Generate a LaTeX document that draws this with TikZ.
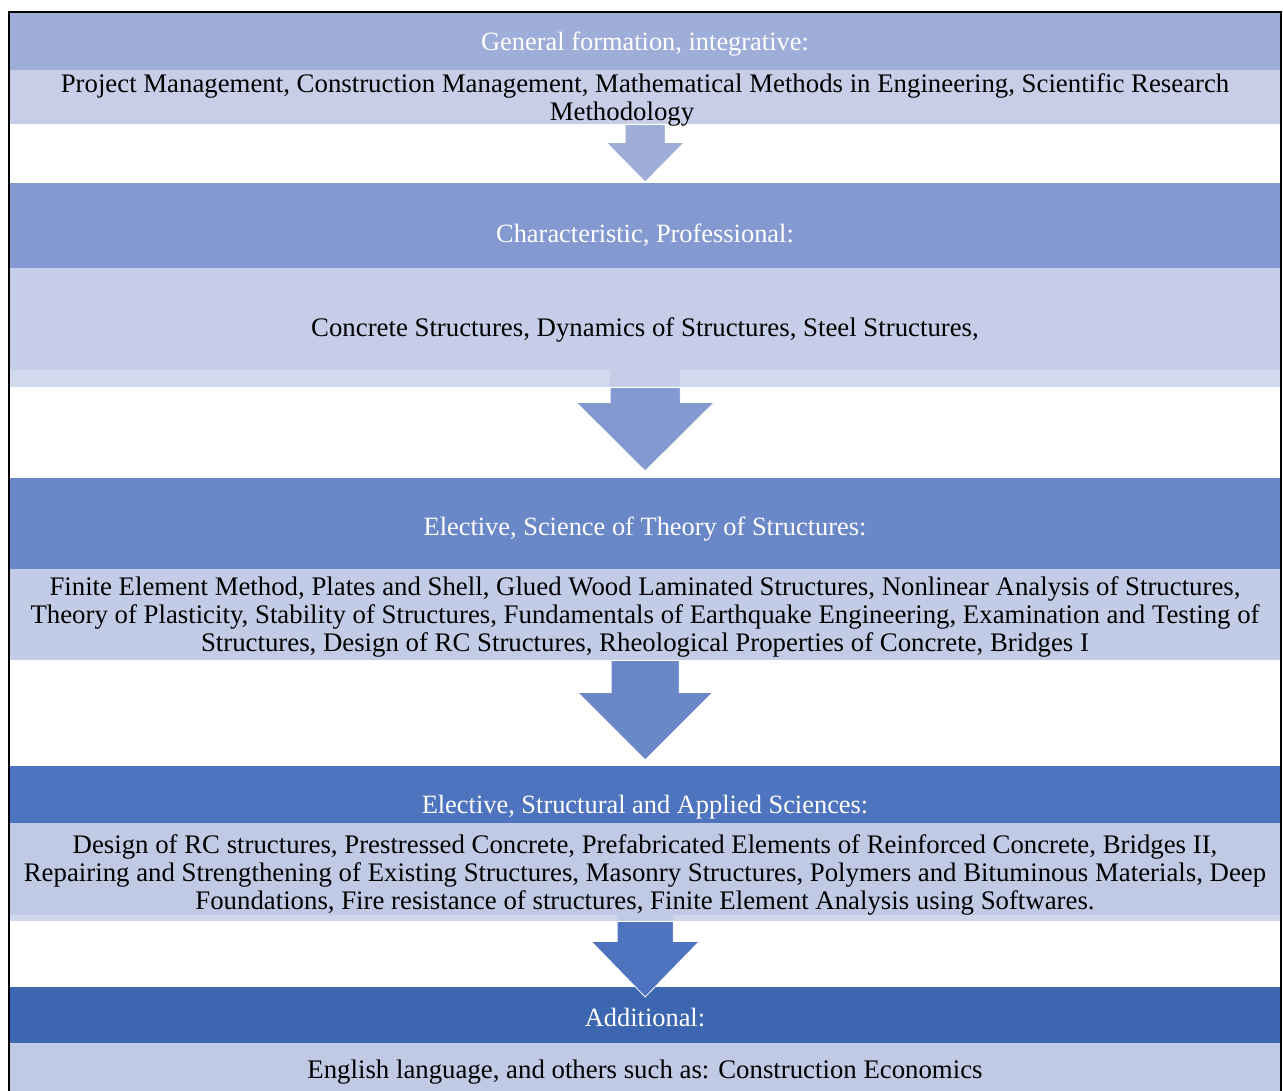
\documentclass[tikz,border=0pt]{standalone}
\usepackage{fontspec}
\setmainfont{Liberation Serif}
\usetikzlibrary{calc}

\definecolor{headA}{RGB}{158,174,216}
\definecolor{headB}{RGB}{131,153,208}
\definecolor{headC}{RGB}{106,136,200}
\definecolor{headD}{RGB}{79,116,191}
\definecolor{headE}{RGB}{60,103,176}
\definecolor{bodyA}{RGB}{200,206,232}
\definecolor{bodyB}{RGB}{197,205,232}
\definecolor{bodyC}{RGB}{195,204,230}
\definecolor{bodyD}{RGB}{192,202,228}
\definecolor{stripB}{RGB}{211,217,236}
\definecolor{stripD}{RGB}{208,215,235}

\tikzset{
  band/.style={anchor=north west, inner sep=0pt, minimum width=1270pt, draw=none},
  htext/.style={text=white, inner sep=0pt, align=center, font=\fontsize{26.4}{28}\selectfont},
  btext/.style={text=black, inner sep=0pt, align=center, font=\fontsize{26.8}{28}\selectfont},
  flow/.style={draw=white, line width=0.8pt}
}

\begin{document}
\begin{tikzpicture}[x=1pt,y=-1pt]
\useasboundingbox (0,0) rectangle (1283,1091);

%bands
\node[band, fill=headA, minimum height=58pt] (h1) at (10,12) {};
\node[band, fill=bodyA, minimum height=54pt] (b1) at (10,70) {};
\node[band, fill=headB, minimum height=85pt] (h2) at (10,183) {};
\node[band, fill=stripB, minimum height=119pt] (s2) at (10,268) {};
\node[band, fill=bodyB, minimum height=102pt] (b2) at (10,268) {};
\node[band, fill=headC, minimum height=91pt] (h3) at (10,478) {};
\node[band, fill=bodyC, minimum height=91pt] (b3) at (10,569) {};
\node[band, fill=headD, minimum height=57pt] (h4) at (10,766) {};
\node[band, fill=stripD, minimum height=98pt] (s4) at (10,823) {};
\node[band, fill=bodyD, minimum height=92pt] (b4) at (10,823) {};
\node[band, fill=headE, minimum height=56pt] (h5) at (10,987) {};
\node[band, fill=bodyD, minimum height=60pt] (b5) at (10,1043) {};

%arrows
\filldraw[flow, fill=headA] ($(b1.south)+(-20,0)$) -- ++(0,18) -- ++(-19,0) -- ($(h2.north)+(0,-1)$)
  -- ($(b1.south)+(39,18)$) -- ++(-19,0) -- ++(0,-18) -- cycle;
\fill[bodyB] ($(b2.south)+(-35,0)$) rectangle ($(s2.south)+(35,0)$);
\filldraw[flow, fill=headB] ($(s2.south)+(-35,0)$) -- ++(0,15) -- ++(-34,0) -- ($(h3.north)+(0,-7)$)
  -- ($(s2.south)+(69,15)$) -- ++(-34,0) -- ++(0,-15) -- cycle;
\filldraw[flow, fill=headC] ($(b3.south)+(-34,0)$) -- ++(0,32) -- ++(-33.5,0) -- ($(h4.north)+(0,-6)$)
  -- ($(b3.south)+(67.5,32)$) -- ++(-33.5,0) -- ++(0,-32) -- cycle;
\fill[bodyD] ($(b4.south)+(-28,0)$) rectangle ($(s4.south)+(28,0)$);
\filldraw[flow, fill=headD] ($(s4.south)+(-28,0)$) -- ++(0,20) -- ++(-26,0) -- ($(h5.north)+(0,10)$)
  -- ($(s4.south)+(54,20)$) -- ++(-26,0) -- ++(0,-20) -- cycle;

%texts
\node[htext] (t1) at (645,44) {General formation, integrative:};
\node[btext] (u1) at (645,100) {Project Management, Construction Management, Mathematical Methods in Engineering, Scientific Research\\Methodology\hspace*{46pt}};
\node[htext] (t2) at (645,235) {Characteristic, Professional:};
\node[btext] (u2) at (645,330) {Concrete Structures, Dynamics of Structures, Steel Structures,};
\node[htext] (t3) at (645,529) {Elective, Science of Theory of Structures:};
\node[btext] (u3) at (645,617) {Finite Element Method, Plates and Shell, Glued Wood Laminated Structures, Nonlinear Analysis of Structures,\\Theory of Plasticity, Stability of Structures, Fundamentals of Earthquake Engineering, Examination and Testing of\\Structures, Design of RC Structures, Rheological Properties of Concrete, Bridges I};
\node[htext] (t4) at (645,807) {Elective, Structural and Applied Sciences:};
\node[btext] (u4) at (645,875) {Design of RC structures, Prestressed Concrete, Prefabricated Elements of Reinforced Concrete, Bridges II,\\Repairing and Strengthening of Existing Structures, Masonry Structures, Polymers and Bituminous Materials, Deep\\Foundations, Fire resistance of structures, Finite Element Analysis using Softwares.};
\node[htext] (t5) at (645,1018) {Additional:};
\node[btext] (u5) at (645,1072) {English language, and others such as: Construction Economics};

%frame
\draw[line width=2pt] (9,1091) -- (9,12) -- (1281,12) -- (1281,1091);
\end{tikzpicture}
\end{document}
